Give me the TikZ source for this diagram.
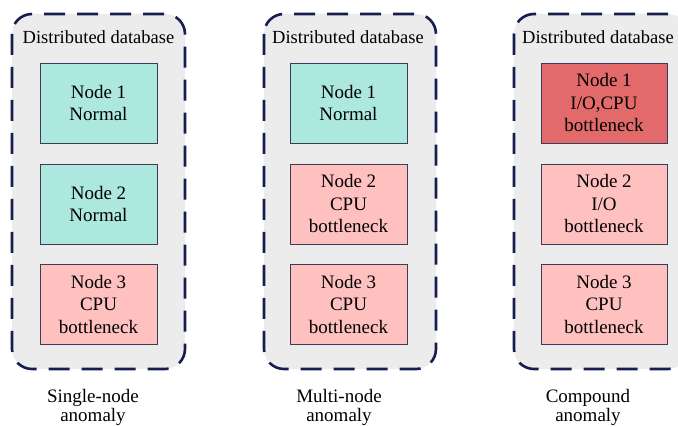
\documentclass[tikz,border=0pt]{standalone}
\usepackage{fontspec}
\setmainfont{Liberation Serif}
\begin{document}
\begin{tikzpicture}[x=1pt,y=-1pt,
  container/.style={draw=navyline, line width=2.6pt, dash pattern=on 21pt off 12pt, fill=contfill, rounded corners=20pt},
  nodebox/.style={draw=boxline, line width=0.8pt, minimum width=117pt, minimum height=80pt, inner sep=0pt, align=center, font=\fontsize{19}{22.5}\selectfont},
  normalbox/.style={nodebox, fill=teal1},
  cpubox/.style={nodebox, fill=pink1},
  severebox/.style={nodebox, fill=red1},
  title/.style={font=\fontsize{18.5}{22}\selectfont, inner sep=0pt},
  caption/.style={font=\fontsize{19}{19.5}\selectfont, align=center, inner sep=0pt}
]
\definecolor{navyline}{RGB}{22,30,80}
\definecolor{contfill}{RGB}{236,236,236}
\definecolor{boxline}{RGB}{60,60,90}
\definecolor{teal1}{RGB}{172,232,222}
\definecolor{pink1}{RGB}{255,192,192}
\definecolor{red1}{RGB}{226,106,106}
\useasboundingbox (0,0) rectangle (678,427);
\clip (0,0) rectangle (678,427);
\fill[white] (0,0) rectangle (678,427);
% containers
\draw[container] (12,14) rectangle (185,369);
\draw[container] (264,14) rectangle (436,369);
\draw[container] (514,14) rectangle (688,369);
% titles
\node[title] (t1) at (98.5,37) {Distributed database};
\node[title] (t2) at (348,37) {Distributed database};
\node[title] (t3) at (598,37) {Distributed database};
% column 1
\node[normalbox] (a1) at (98.5,103) {Node 1\\Normal};
\node[normalbox] (a2) at (98.5,204) {Node 2\\Normal};
\node[cpubox] (a3) at (98.5,304.5) {Node 3\\CPU\\bottleneck};
% column 2
\node[normalbox] (b1) at (348.5,103) {Node 1\\Normal};
\node[cpubox] (b2) at (348.5,204) {Node 2\\CPU\\bottleneck};
\node[cpubox] (b3) at (348.5,304.5) {Node 3\\CPU\\bottleneck};
% column 3
\node[severebox, minimum width=126pt] (c1) at (604,103) {Node 1\\I/O,CPU\\bottleneck};
\node[cpubox, minimum width=126pt] (c2) at (604,204) {Node 2\\I/O\\bottleneck};
\node[cpubox, minimum width=126pt] (c3) at (604,304.5) {Node 3\\CPU\\bottleneck};
% captions
\node[caption] (l1) at (93,407.5) {Single-node\\anomaly};
\node[caption] (l2) at (339,407.5) {Multi-node\\anomaly};
\node[caption] (l3) at (588,407.5) {Compound\\anomaly};
\end{tikzpicture}
\end{document}
